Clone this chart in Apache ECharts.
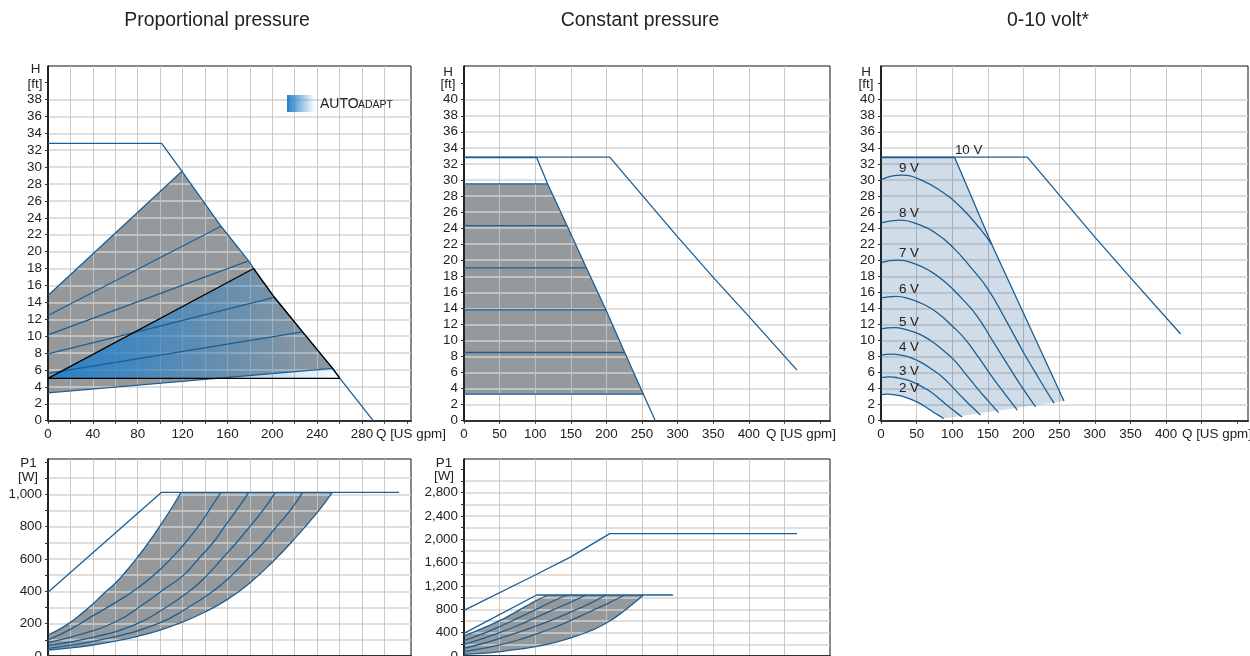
<!DOCTYPE html>
<html><head><meta charset="utf-8">
<style>html,body{margin:0;padding:0;background:#fff}#c{width:1250px;height:656px}</style>
<script src="https://cdn.jsdelivr.net/npm/echarts@6/dist/echarts.min.js"></script>
</head><body><div id="c"></div>
<script>
// ---------- tick lists ----------
const xTicksA = [0,20,40,60,80,100,120,140,160,180,200,220,240,260,280,300,320];
const xLabelsA = [0,40,80,120,160,200,240,280];
const xTicksB = [0,50,100,150,200,250,300,350,400,450,500];
const xLabelsB = [0,50,100,150,200,250,300,350,400];
const yTicksA = [0,2,4,6,8,10,12,14,16,18,20,22,24,26,28,30,32,34,36,38,40];
const yLabelsA = [0,2,4,6,8,10,12,14,16,18,20,22,24,26,28,30,32,34,36,38];
const yTicksB = [0,2,4,6,8,10,12,14,16,18,20,22,24,26,28,30,32,34,36,38,40,42];
const yLabelsB = [0,2,4,6,8,10,12,14,16,18,20,22,24,26,28,30,32,34,36,38,40];
const yTicksP1 = [0,100,200,300,400,500,600,700,800,900,1000,1100,1200];
const yLabelsP1 = [0,200,400,600,800,1000];
const yTicksP2 = [0,200,400,600,800,1000,1200,1400,1600,1800,2000,2200,2400,2600,2800,3000,3200];
const yLabelsP2 = [0,400,800,1200,1600,2000,2400,2800];

// ---------- Proportional pressure, H(Q) ----------
const propMax = [[0,32.8],[101.3,32.8],[119.5,29.5],[154.3,23.0],[178.9,18.9],[183.4,18.0],[201.8,14.6],[227,10.5],[253.8,6.2],[260.3,5.0],[290,0]];
const propGray = [[0,14.8],[119.5,29.5],[154.3,23.0],[178.9,18.9],[183.4,18.0],[201.8,14.6],[227,10.5],[253.8,6.2],[0,3.3]];
const propL1 = [[0,14.8],[119.5,29.5]];
const propL2 = [[0,12.45],[154.3,23.0]];
const propL3 = [[0,10.15],[178.9,18.9]];
const propL4 = [[0,7.9],[80,10.55],[201.8,14.6]];
const propL5 = [[0,5.6],[227,10.5]];
const propL6 = [[0,3.3],[253.8,6.2]];
const autoArea = [[0,5],[183.4,18],[201.8,14.6],[227,10.5],[253.8,6.2],[260.3,5]];
const autoEdge = [[0,5],[183.4,18],[201.8,14.6],[227,10.5],[253.8,6.2],[260.3,5],[0,5]];

// ---------- Constant pressure, H(Q) ----------
const constOuter = [[0,32.85],[204.6,32.85],[300,22.9],[350.6,17.8],[400,13],[467.7,6.3]];
const constInner = [[0,32.8],[102,32.8],[117.5,29.5],[144.7,24.3],[171.8,19.05],[199.4,13.8],[225.7,8.5],[251.9,3.3],[268.7,0]];
const constGray = [[0,29.5],[117.5,29.5],[144.7,24.3],[171.8,19.05],[199.4,13.8],[225.7,8.5],[251.9,3.3],[0,3.3]];
const constH1 = [[0,29.5],[117.5,29.5]];
const constH2 = [[0,24.3],[144.7,24.3]];
const constH3 = [[0,19.05],[171.8,19.05]];
const constH4 = [[0,13.8],[199.4,13.8]];
const constH5 = [[0,8.5],[225.7,8.5]];
const constH6 = [[0,3.3],[251.9,3.3]];

// ---------- 0-10 volt, H(Q) ----------
const voltOuter = [[0,32.85],[205.3,32.85],[299.8,22.9],[350.3,17.8],[420.5,10.8]];
const voltInner = [[0,32.8],[103.4,32.8],[155.8,21.9],[256.8,2.45]];
const v2 = [[0,3.25],[9.7,3.3],[18,3.24],[28,3.08],[36.6,2.85],[45.8,2.52],[54.3,2.16],[63.7,1.64],[72.4,1.12],[80.4,0.69],[88,0.28]];
const v3 = [[0,5.37],[12.5,5.45],[23.4,5.35],[36.4,5.08],[47.3,4.71],[59,4.16],[70,3.58],[82.3,2.7],[93.6,1.85],[104,1.13],[113.7,0.47]];
const v4 = [[0,8.18],[15,8.3],[29,8.15],[45,7.74],[58,7.17],[72.5,6.34],[86,5.44],[101,4.12],[115,2.82],[127.5,1.73],[139.4,0.71]];
const v5 = [[0,11.45],[18,11.6],[34,11.39],[53,10.81],[69,10.02],[86,8.86],[102,7.61],[119.5,5.75],[136,3.94],[151,2.41],[165,1.0]];
const v6 = [[0,15.3],[21,15.5],[39,15.22],[61,14.45],[80,13.4],[99.5,11.84],[118,10.17],[138.5,7.69],[157.4,5.27],[174.9,3.22],[191.3,1.33]];
const v7 = [[0,19.7],[24,20],[45,19.64],[69,18.64],[90,17.28],[113,15.28],[134,13.12],[157,9.92],[179,6.8],[198,4.16],[217,1.72]];
const v8 = [[0,24.65],[27,25],[50,24.55],[78,23.3],[101,21.6],[126,19.1],[150,16.4],[176,12.4],[200,8.5],[222,5.2],[243,2.15]];
const v9 = [[0,30.05],[29,30.6],[55,30.05],[86,28.5],[112,26.6],[140,23.8],[155.8,21.9]];
const voltFill = [[0,32.8],[103.4,32.8],[155.8,21.9],[256.8,2.45],[88,0.28],[80.4,0.69],[72.4,1.12],[63.7,1.64],[54.3,2.16],[45.8,2.52],[36.6,2.85],[28,3.08],[18,3.24],[9.7,3.3],[0,3.25]];
const voltNames = ['2 V','3 V','4 V','5 V','6 V','7 V','8 V','9 V','10 V'];
const voltLabelPos = [[39.3,4.0],[39.3,6.2],[39.3,9.1],[39.3,12.3],[39.3,16.4],[39.3,20.9],[39.3,25.9],[39.3,31.5],[123,33.75]];

// ---------- P1(Q), proportional ----------
const powOuterA = [[0,394],[101.3,1012],[313,1012]];
const powA1 = [[0,130],[10,165],[20,208],[30,262],[40,322],[50,388],[60,450],[70,527],[80,612],[90,705],[100,806],[110,912],[118.6,1012]];
const powA2 = [[0,99],[20,165],[38,240],[60,330],[80,420],[100,535],[120,680],[135,810],[145,915],[154.2,1012]];
const powA3 = [[0,82],[30,135],[60,210],[85,320],[105,420],[121,500],[134,600],[147,700],[158,806],[168,900],[179,1012]];
const powA4 = [[0,64],[40,115],[78,195],[105,300],[126,400],[142,500],[155,600],[168,700],[180,800],[191.6,900],[202.7,1012]];
const powA5 = [[0,47],[50,105],[98,200],[125,300],[147,400],[164,500],[178,600],[192,700],[204.5,806],[216,900],[227,1012]];
const powA6 = [[0,37],[20,50],[40,68],[60,92],[80,122],[100,160],[120,210],[140,272],[160,350],[180,452],[200,580],[220,726],[240,886],[253.5,1012]];

// ---------- P1(Q), constant ----------
const powOuterB = [[0,783],[100,1389],[150,1700],[204.6,2097],[467.7,2097]];
const powSecondB = [[0,389],[102,1046],[293.5,1046]];
const powB1 = [[0,343],[25,470],[50,605],[70,735],[86,846],[100,940],[117.5,1046]];
const powB2 = [[0,263],[25,375],[50,505],[75,645],[100,790],[123,930],[144.7,1046]];
const powB3 = [[0,200],[25,295],[50,400],[75,520],[100,655],[125,790],[150,925],[171.8,1046]];
const powB4 = [[0,131],[25,210],[50,303],[75,400],[100,510],[125,625],[150,755],[175,890],[199.4,1046]];
const powB5 = [[0,74],[25,125],[50,189],[75,270],[100,370],[125,480],[150,610],[175,750],[200,890],[225.7,1046]];
const powB6 = [[0,29],[25,45],[50,74],[75,112],[100,160],[125,225],[150,310],[175,420],[200,565],[226,785],[251.9,1046]];

const titles = ['Proportional pressure','Constant pressure','0-10 volt*'];
const FONT = '"Liberation Sans", Arial, sans-serif';
const BLUE = '#1b5e94', GRAY = '#96999b', TXT = '#222';
const LW = 1.3;

const grids = [
  {left:48, top:66, width:363, height:354.7},
  {left:464, top:66, width:366, height:354.7},
  {left:881, top:66, width:367, height:354.7},
  {left:48, top:459, width:363, height:197},
  {left:464, top:459, width:366, height:197}
].map(g=>Object.assign(g,{show:true,borderColor:'#111',borderWidth:1,backgroundColor:'transparent',containLabel:false,outerBoundsMode:'none'}));

function xAxis(i,max,ticks,labels,z){
  return {type:'value',gridIndex:i,min:0,max:max,z:z,
    axisLine:{show:true,onZero:false,lineStyle:{color:'#333',width:2}},
    axisTick:{show:true,length:3,customValues:ticks,lineStyle:{color:'#333'}},
    axisLabel:{show:!!labels,customValues:labels||[],fontFamily:FONT,fontSize:13.4,color:TXT,margin:7},
    splitLine:{show:true,showMinLine:false,showMaxLine:false,lineStyle:{color:'rgba(195,195,195,0.9)',width:1}}};
}
function yAxis(i,max,ticks,labels,z){
  return {type:'value',gridIndex:i,min:0,max:max,z:z,
    axisLine:{show:true,onZero:false,lineStyle:{color:'#000',width:1.5}},
    axisTick:{show:true,length:3,customValues:ticks,lineStyle:{color:'#333'}},
    axisLabel:{customValues:labels,fontFamily:FONT,fontSize:13.4,color:TXT,margin:6,
      formatter:v=>Number(v).toLocaleString('en-US')},
    splitLine:{show:true,showMinLine:false,showMaxLine:false,lineStyle:{color:'rgba(210,210,210,0.7)',width:2}}};
}
function line(i,data,color,z,width,smooth){
  return {type:'line',xAxisIndex:i,yAxisIndex:i,data:data,showSymbol:false,smooth:smooth?0.5:false,
    silent:true,animation:false,z:z||5,clip:true,
    lineStyle:{color:color||BLUE,width:width||LW}};
}
function poly(i,pts,fill,z){
  return {type:'custom',xAxisIndex:i,yAxisIndex:i,data:pts,encode:{x:0,y:1},silent:true,animation:false,z:z,clip:true,
    renderItem:(p,api)=>{
      if(p.dataIndex!==0) return;
      return {type:'polygon',shape:{points:pts.map(q=>api.coord(q))},style:{fill:fill,stroke:null}};
    }};
}
const polyOf=(up,low)=>up.concat(low.slice().reverse());

const series=[
  // Proportional pressure
  poly(0,propGray,GRAY,1),
  poly(0,autoArea,{type:'linear',x:0,y:0,x2:1,y2:0,colorStops:[{offset:0,color:'rgba(38,128,200,1)'},{offset:1,color:'rgba(38,128,200,0.03)'}]},3),
  line(0,propMax),line(0,propL1),line(0,propL2),line(0,propL3),line(0,propL4,null,5,LW,true),line(0,propL5),line(0,propL6),
  line(0,autoEdge,'#000',6,LW),
  // Constant pressure
  poly(1,constGray,GRAY,1),
  line(1,constOuter),line(1,constInner),line(1,constH1),line(1,constH2),line(1,constH3),line(1,constH4),line(1,constH5),line(1,constH6),
  // 0-10 volt
  poly(2,voltFill,'rgba(20,80,140,0.2)',1),
  line(2,voltOuter),line(2,voltInner),
  ...[v2,v3,v4,v5,v6,v7,v8,v9].map(d=>line(2,d,null,5,LW,true)),
  {type:'custom',xAxisIndex:2,yAxisIndex:2,silent:true,animation:false,z:7,clip:false,
    data:voltLabelPos,encode:{x:0,y:1},
    renderItem:(p,api)=>{
      const c=api.coord(voltLabelPos[p.dataIndex]);
      return {type:'text',style:{text:voltNames[p.dataIndex],x:c[0],y:c[1],align:'center',verticalAlign:'middle',fontFamily:FONT,fontSize:13.4,fill:TXT}};
    }},
  // P1 proportional
  poly(3,polyOf(powA1,powA6),GRAY,1),
  line(3,powOuterA),
  ...[powA1,powA2,powA3,powA4,powA5,powA6].map(d=>line(3,d,null,5,LW,true)),
  // P1 constant
  poly(4,polyOf(powB1,powB6),GRAY,1),
  line(4,powOuterB),line(4,powSecondB),
  ...[powB1,powB2,powB3,powB4,powB5,powB6].map(d=>line(4,d,null,5,LW,true))
];

function t(text,x,y,size,align){
  return {type:'text',z:20,style:{text:text,x:x,y:y,align:align||'center',verticalAlign:'middle',fontFamily:FONT,fontSize:size||13.4,fill:TXT}};
}
const graphic=[
  t(titles[0],217,21,19.4),t(titles[1],640,21,19.4),t(titles[2],1048,21,19.4),
  t('H',35.5,69.5),t('[ft]',35,84),
  t('H',448,72),t('[ft]',448,84),
  t('H',866,72),t('[ft]',866,84),
  t('P1',28.5,463),t('[W]',28,477),
  t('P1',444,463),t('[W]',444,476),
  t('Q [US gpm]',376,434,13.4,'left'),t('Q [US gpm]',766,434,13.4,'left'),t('Q [US gpm]',1182,434,13.4,'left'),
  {type:'rect',z:20,shape:{x:287,y:95,width:28,height:17},style:{fill:{type:'linear',x:0,y:0,x2:1,y2:0,colorStops:[{offset:0,color:'rgba(38,128,200,1)'},{offset:1,color:'rgba(38,128,200,0)'}]}}},
  t('AUTO',320,104.5,14,'left'),t('ADAPT',358,105.5,10.5,'left')
];

const chart=echarts.init(document.getElementById('c'),null,{renderer:'canvas'});
chart.setOption({
  animation:false,backgroundColor:'#fff',
  grid:grids,graphic:graphic,
  xAxis:[xAxis(0,323.7,xTicksA,xLabelsA,2),xAxis(1,514,xTicksB,xLabelsB,2),xAxis(2,515,xTicksB,xLabelsB,0),xAxis(3,323.7,xTicksA,null,2),xAxis(4,514,xTicksB,null,2)],
  yAxis:[yAxis(0,41.96,yTicksA,yLabelsA,2),yAxis(1,44.2,yTicksB,yLabelsB,2),yAxis(2,44.2,yTicksB,yLabelsB,0),yAxis(3,1218,yTicksP1,yLabelsP1,2),yAxis(4,3377,yTicksP2,yLabelsP2,2)],
  series:series
});
</script></body></html>
